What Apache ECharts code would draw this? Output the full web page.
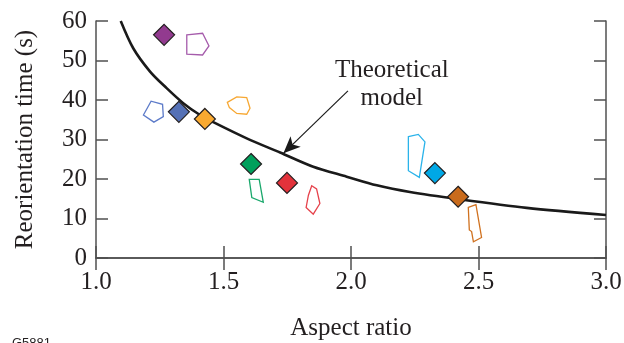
<!DOCTYPE html>
<html>
<head>
<meta charset="utf-8">
<script src="https://cdn.jsdelivr.net/npm/echarts@6/dist/echarts.min.js"></script>
<style>
  html, body { margin: 0; padding: 0; background: #fff; }
  #chart { width: 624px; height: 343px; }
</style>
</head>
<body>
<div id="chart"></div>
<script>
// measured points: aspect ratio vs reorientation time
const aspectRatio = [1.267, 1.325, 1.427, 1.608, 1.749, 2.329, 2.42];
const reorientTime = [56.5, 37.0, 35.2, 23.8, 19.0, 21.5, 15.5];
const pointColors = ['#923a8f', '#5571b6', '#f9a930', '#00a05c', '#e2323b', '#00a8e6', '#c96b1c'];
const outlineColors = ['#a55bab', '#5d7bc9', '#f7a833', '#1aa86c', '#e6424b', '#2ab3ea', '#d0711f'];

// particle outlines, vertices in [aspect ratio, time] units
const outlineX = [
  [1.356, 1.418, 1.443, 1.418, 1.356],
  [1.186, 1.216, 1.261, 1.264, 1.227],
  [1.515, 1.552, 1.591, 1.604, 1.591, 1.552, 1.523],
  [1.601, 1.640, 1.656, 1.611],
  [1.846, 1.865, 1.878, 1.852, 1.824, 1.833],
  [2.225, 2.264, 2.290, 2.268, 2.225],
  [2.460, 2.490, 2.512, 2.480, 2.473, 2.464]
];
const outlineY = [
  [56.5, 56.9, 53.7, 51.4, 51.6],
  [36.2, 39.7, 38.9, 35.8, 34.4],
  [39.4, 40.8, 40.6, 37.9, 36.4, 36.6, 38.1],
  [19.9, 19.9, 14.1, 15.3],
  [18.3, 17.5, 13.8, 11.1, 12.8, 15.9],
  [30.7, 31.3, 29.4, 20.4, 22.1],
  [12.8, 13.5, 5.2, 4.1, 6.7, 7.1]
];

// theoretical model curve
const modelX = [1.097, 1.146, 1.212, 1.277, 1.342, 1.408, 1.46, 1.591, 1.722, 1.852, 1.983, 2.101, 2.231, 2.421, 2.689, 3.0];
const modelY = [60, 53.1, 47.2, 43.0, 39.2, 36.2, 34.4, 30.3, 26.7, 23.1, 20.6, 18.4, 16.7, 14.9, 12.7, 10.9];

const xTicks = [1.0, 1.5, 2.0, 2.5, 3.0];
const yTicks = [0, 10, 20, 30, 40, 50, 60];

const serif = 'Liberation Serif';
const frameColor = '#505050';

const chart = echarts.init(document.getElementById('chart'));

const axisCommon = {
  axisLine: { show: true, lineStyle: { color: frameColor, width: 1.5 } },
  axisTick: { show: true, inside: true, length: 12, lineStyle: { color: frameColor, width: 1.5 } },
  splitLine: { show: false }
};

chart.setOption({
  animation: false,
  grid: { left: 96, top: 21, right: 18, bottom: 85, outerBoundsMode: 'none' },
  xAxis: [
    Object.assign({
      type: 'value', min: 1.0, max: 3.0, interval: 0.5,
      name: 'Aspect ratio', nameLocation: 'middle', nameGap: 58,
      nameTextStyle: { fontFamily: serif, fontSize: 25, color: '#231f20' },
      axisLabel: { fontFamily: serif, fontSize: 25, color: '#231f20', margin: 12,
        formatter: v => xTicks.indexOf(v) >= 0 ? v.toFixed(1) : '' }
    }, axisCommon),
    Object.assign({
      type: 'value', min: 1.0, max: 3.0, interval: 0.5, position: 'top',
      axisLabel: { show: false }
    }, axisCommon)
  ],
  yAxis: [
    Object.assign({
      type: 'value', min: 0, max: 60, interval: 10,
      name: 'Reorientation time (s)', nameLocation: 'middle', nameGap: 58,
      nameTextStyle: { fontFamily: serif, fontSize: 25, color: '#231f20' },
      axisLabel: { fontFamily: serif, fontSize: 25, color: '#231f20', margin: 9,
        formatter: v => yTicks.indexOf(v) >= 0 ? String(v) : '' }
    }, axisCommon),
    Object.assign({
      type: 'value', min: 0, max: 60, interval: 10, position: 'right',
      axisLabel: { show: false }
    }, axisCommon)
  ],
  series: [
    {
      type: 'line',
      data: modelX.map((x, i) => [x, modelY[i]]),
      smooth: 0.3,
      symbol: 'none',
      lineStyle: { color: '#1a1a1a', width: 2.6 },
      z: 2,
      markLine: {
        silent: true,
        symbol: ['none', 'arrow'],
        symbolSize: [11, 17],
        lineStyle: { color: '#1a1a1a', width: 1.2, type: 'solid' },
        label: { show: false },
        data: [[{ coord: [1.988, 42.3] }, { coord: [1.735, 26.5] }]]
      },
      markPoint: {
        silent: true,
        symbol: 'rect', symbolSize: 1,
        itemStyle: { color: 'transparent' },
        label: {
          show: true, position: 'inside',
          formatter: 'Theoretical\nmodel',
          fontFamily: serif, fontSize: 25, lineHeight: 28, color: '#231f20'
        },
        data: [{ coord: [2.16, 44.0] }]
      }
    },
    {
      type: 'custom',
      data: outlineX.map((_, i) => [i]),
      renderItem: (params, api) => {
        const i = params.dataIndex;
        const pts = outlineX[i].map((x, k) => api.coord([x, outlineY[i][k]]));
        return {
          type: 'polygon',
          shape: { points: pts },
          style: { fill: 'none', stroke: outlineColors[i], lineWidth: 1.3 }
        };
      },
      z: 3
    },
    {
      type: 'scatter',
      symbol: 'diamond',
      symbolSize: 21,
      data: aspectRatio.map((x, i) => ({
        value: [x, reorientTime[i]],
        itemStyle: { color: pointColors[i], opacity: 1, borderColor: '#231f20', borderWidth: 1.2 }
      })),
      z: 4
    }
  ],
  graphic: [{
    type: 'text', left: 12, top: 337,
    style: { text: 'G5881', font: '13px "Liberation Sans"', fill: '#231f20' }
  }]
});
</script>
</body>
</html>
